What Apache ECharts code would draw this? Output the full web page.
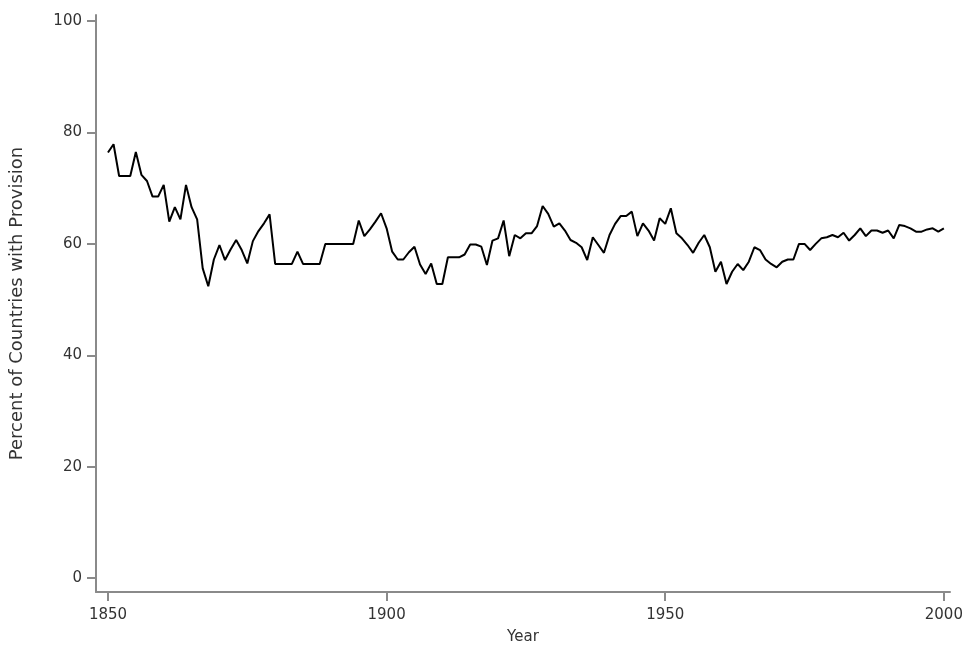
<!DOCTYPE html>
<html>
<head>
<meta charset="utf-8">
<script src="https://cdn.jsdelivr.net/npm/echarts@6/dist/echarts.min.js"></script>
<style>
  html, body { margin: 0; padding: 0; background: #fff; }
  #chart { width: 975px; height: 650px; }
</style>
</head>
<body>
<div id="chart"></div>
<script>
// 年份与取值（每年一个点，1850-2000）
const firstYear = 1850;
const percentValues = [
  76.4, 77.9, 72.2, 72.2, 72.2, 76.5, 72.4, 71.3, 68.5, 68.5,
  70.6, 64.0, 66.6, 64.4, 70.6, 66.6, 64.4, 55.6, 52.4, 57.2,
  59.8, 57.1, 59.0, 60.7, 58.9, 56.5, 60.5, 62.3, 63.7, 65.3,
  56.4, 56.4, 56.4, 56.4, 58.6, 56.4, 56.4, 56.4, 56.4, 60.0,
  60.0, 60.0, 60.0, 60.0, 60.0, 64.2, 61.4, 62.6, 64.0, 65.5,
  62.8, 58.6, 57.2, 57.2, 58.5, 59.5, 56.3, 54.6, 56.5, 52.8,
  52.8, 57.6, 57.6, 57.6, 58.1, 59.9, 59.9, 59.5, 56.2, 60.6,
  61.0, 64.2, 57.8, 61.6, 61.0, 61.9, 61.9, 63.2, 66.8, 65.4,
  63.1, 63.7, 62.4, 60.7, 60.2, 59.4, 57.1, 61.2, 59.8, 58.4,
  61.6, 63.6, 65.0, 65.0, 65.8, 61.4, 63.7, 62.4, 60.6, 64.6,
  63.6, 66.4, 61.9, 61.0, 59.8, 58.4, 60.2, 61.6, 59.4, 55.0,
  56.8, 52.8, 55.0, 56.4, 55.3, 56.8, 59.4, 58.9, 57.2, 56.4,
  55.8, 56.8, 57.2, 57.2, 60.0, 60.0, 58.9, 60.0, 61.0, 61.2,
  61.6, 61.2, 62.0, 60.6, 61.6, 62.8, 61.4, 62.4, 62.4, 62.0,
  62.4, 61.0, 63.4, 63.2, 62.8, 62.2, 62.2, 62.6, 62.8, 62.2,
  62.8
];
const xTicks = [1850, 1900, 1950, 2000];
const yTicks = [0, 20, 40, 60, 80, 100];

const AXIS_COLOR = '#8a8a8a';
const TEXT_COLOR = '#333';
const FONT = 'DejaVu Sans, Verdana, sans-serif';

const chart = echarts.init(document.getElementById('chart'));

const seriesData = percentValues.map((v, i) => [firstYear + i, v]);

chart.setOption({
  backgroundColor: '#fff',
  animation: false,
  grid: { left: 96, right: 25, top: 15, bottom: 58 },
  xAxis: {
    type: 'value',
    min: 1847.85,
    max: 2001.1,
    name: 'Year',
    nameLocation: 'middle',
    nameGap: 38,
    nameTextStyle: { color: TEXT_COLOR, fontSize: 15, fontFamily: FONT },
    axisLine: { show: true, onZero: false, lineStyle: { color: AXIS_COLOR, width: 2 } },
    axisTick: { show: true, length: 9, customValues: xTicks, lineStyle: { color: AXIS_COLOR, width: 2 } },
    axisLabel: {
      customValues: xTicks, margin: 16, color: TEXT_COLOR, fontSize: 15, fontFamily: FONT,
      formatter: v => String(v),
    },
    splitLine: { show: false },
  },
  yAxis: {
    type: 'value',
    min: -2.5,
    max: 101.1,
    name: 'Percent of Countries with Provision',
    nameLocation: 'middle',
    nameRotate: 90,
    nameGap: 70,
    nameTextStyle: { color: TEXT_COLOR, fontSize: 18, fontFamily: FONT },
    axisLine: { show: true, onZero: false, lineStyle: { color: AXIS_COLOR, width: 2 } },
    axisTick: { show: true, length: 9, customValues: yTicks, lineStyle: { color: AXIS_COLOR, width: 2 } },
    axisLabel: { customValues: yTicks, margin: 14, color: TEXT_COLOR, fontSize: 15, fontFamily: FONT },
    splitLine: { show: false },
  },
  series: [{
    type: 'line',
    data: seriesData,
    showSymbol: false,
    symbol: 'none',
    lineStyle: { color: '#000', width: 2 },
  }],
});
</script>
</body>
</html>
